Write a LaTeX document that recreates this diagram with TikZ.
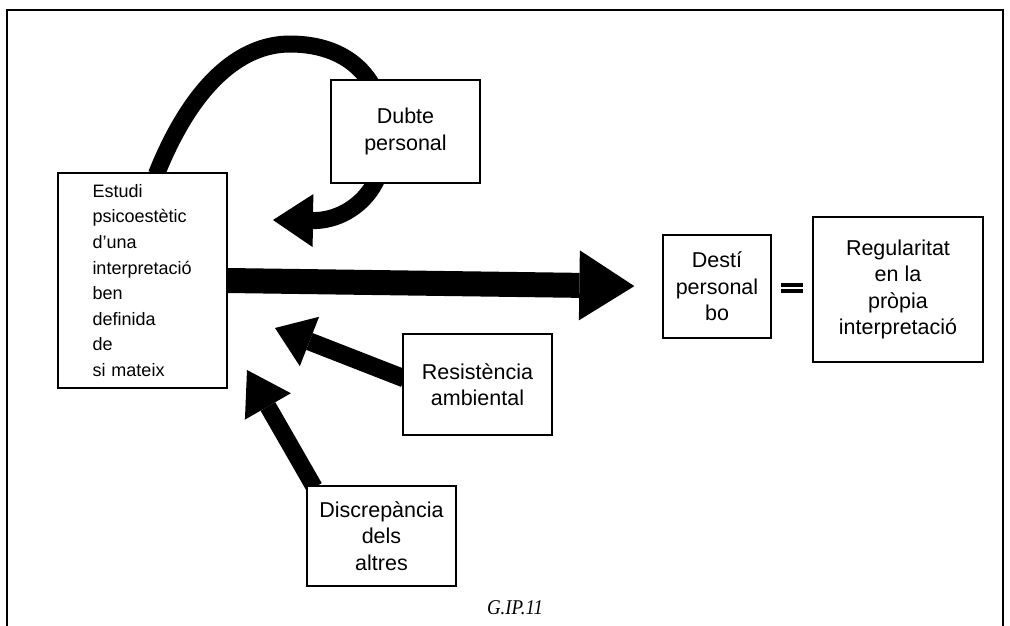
\documentclass[tikz,border=0pt]{standalone}
\usepackage{fontspec}
\setmainfont{Liberation Sans}
\newfontfamily\capfont{Liberation Serif}
\usetikzlibrary{arrows.meta,calc,backgrounds}
\begin{document}
\begin{tikzpicture}[x=1pt,y=-1pt,
  box/.style={draw, line width=1.3pt, fill=white, align=center, inner sep=0pt},
  big/.style={font=\fontsize{21.5}{26.5}\selectfont},
  fat/.style={line width=17pt}]
\useasboundingbox (0,0) rectangle (1010,625);
\draw[line width=1.5pt] (7,626) -- (7,10) -- (1003,10) -- (1003,626);

\node[box, minimum width=169, minimum height=215, text width=100, align=left,
  font=\fontsize{18}{25.6}\selectfont] (est) at (142.5,280.5)
  {Estudi\\psicoestètic\\d’una\\interpretació\\ben\\definida\\de\\si mateix};
\node[box, big, minimum width=149, minimum height=103] (dub) at (405.5,131.5) {Dubte\\personal};
\node[box, big, minimum width=108, minimum height=103] (des) at (717,286.5) {Destí\\personal\\bo};
\node[box, big, minimum width=170, minimum height=145] (reg) at (898,289.5) {Regularitat\\en la\\pròpia\\interpretació};
\node[box, big, minimum width=149, minimum height=101] (res) at (477.5,384.5) {Resistència\\ambiental};
\node[box, big, minimum width=149, minimum height=100] (dis) at (381.5,536) {Discrepància\\dels\\altres};
\node[font=\capfont\itshape\fontsize{21}{21}\selectfont, xscale=0.9] (cap) at (515,608) {G.IP.11};

\fill (781,283) rectangle (803,287.3);
\fill (781,289.3) rectangle (803,293);

\coordinate (t1) at (273,220);
\coordinate (t2) at (275,328);
\coordinate (t3) at (247,370);

\begin{scope}[on background layer]
\draw[line width=25pt, -{Triangle[length=55pt,width=70pt,line width=0pt]}, shorten >=28pt] (est.east) -- (des.west);
\draw[fat, -{Triangle[length=40pt,width=53pt,line width=0pt]}]
  ($(est.north west)+(99,2)$) .. controls (192,85) and (240,44) .. (290,44)
  .. controls (345,44) and (385,75) .. (385,140)
  .. controls (385,195) and (345,221) .. (t1);
\draw[line width=18pt, -{Triangle[length=37pt,width=53pt,line width=0pt]}] ($(res.west)+(2,-6)$) -- (t2);
\draw[fat, -{Triangle[length=42pt,width=53pt,line width=0pt]}] ($(dis.north west)+(8,2)$) -- (t3);
\end{scope}
\end{tikzpicture}
\end{document}
